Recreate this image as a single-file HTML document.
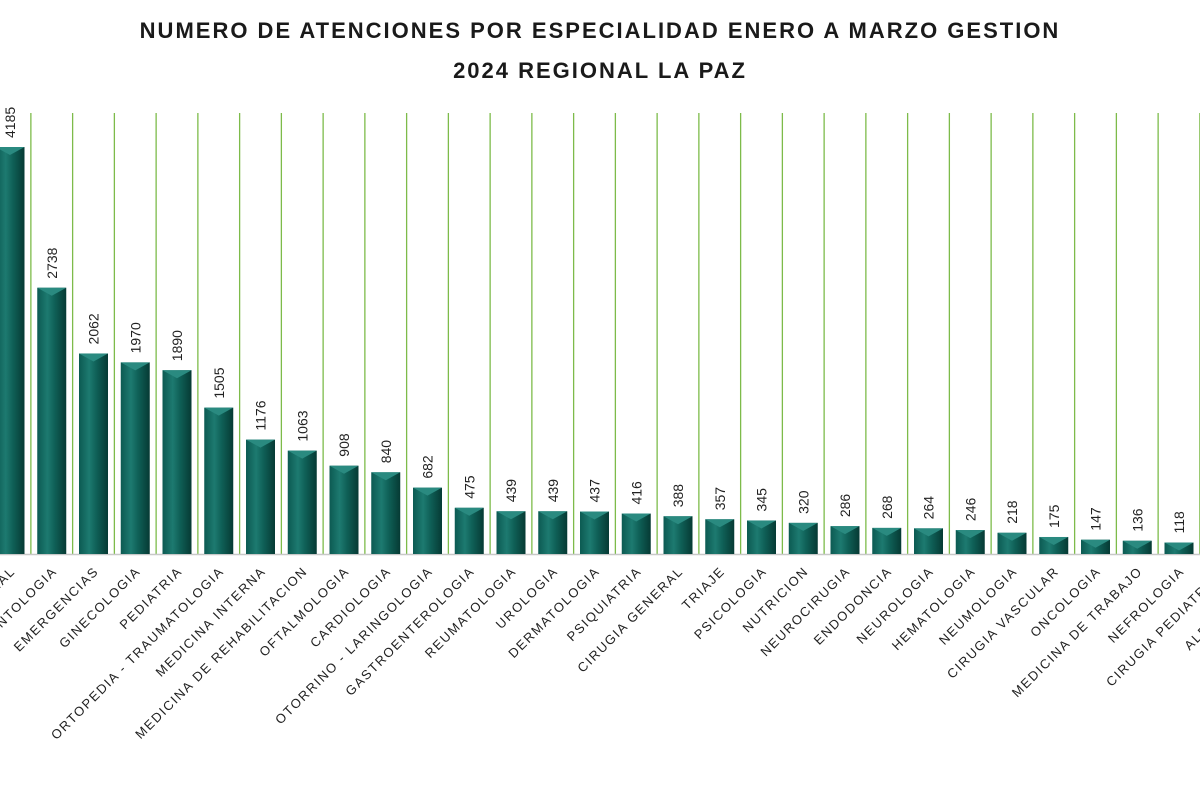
<!DOCTYPE html>
<html><head><meta charset="utf-8"><style>
html,body{margin:0;padding:0;background:#fff;width:1200px;height:800px;overflow:hidden}
svg{display:block}
text{font-family:"Liberation Sans",sans-serif}
</style></head><body>
<svg id="chart" width="1200" height="800">
<defs>
<linearGradient id="bg" x1="0" x2="1" y1="0" y2="0">
<stop offset="0" stop-color="#0c5a52"/><stop offset="0.35" stop-color="#1d7a70"/><stop offset="0.6" stop-color="#0f6057"/><stop offset="1" stop-color="#063a34"/>
</linearGradient>
</defs>
<text x="600" y="38" text-anchor="middle" font-size="22" font-weight="bold" letter-spacing="2" fill="#1a1a1a">NUMERO DE ATENCIONES POR ESPECIALIDAD ENERO A MARZO GESTION</text>
<text x="600" y="78" text-anchor="middle" font-size="22" font-weight="bold" letter-spacing="2" fill="#1a1a1a">2024 REGIONAL LA PAZ</text>
<g id="grid"></g><g id="bars"></g><g id="labels"></g>
</svg>
<script>
const categories = ["MEDICINA GENERAL","ODONTOLOGIA","EMERGENCIAS","GINECOLOGIA","PEDIATRIA","ORTOPEDIA - TRAUMATOLOGIA","MEDICINA INTERNA","MEDICINA DE REHABILITACION","OFTALMOLOGIA","CARDIOLOGIA","OTORRINO - LARINGOLOGIA","GASTROENTEROLOGIA","REUMATOLOGIA","UROLOGIA","DERMATOLOGIA","PSIQUIATRIA","CIRUGIA GENERAL","TRIAJE","PSICOLOGIA","NUTRICION","NEUROCIRUGIA","ENDODONCIA","NEUROLOGIA","HEMATOLOGIA","NEUMOLOGIA","CIRUGIA VASCULAR","ONCOLOGIA","MEDICINA DE TRABAJO","NEFROLOGIA","CIRUGIA PEDIATRICA","ALERGOLOGIA","ENDOCRINOLOGIA"];
const values = [4185,2738,2062,1970,1890,1505,1176,1063,908,840,682,475,439,439,437,416,388,357,345,320,286,268,264,246,218,175,147,136,118,100,90,80];
const NS="http://www.w3.org/2000/svg";
const x0=10, step=41.75, base=554, scale=407/4185, bw=29;
const xPos=i=>x0+i*step;
const yPos=v=>base-v*scale;
const grid=document.getElementById('grid'), bars=document.getElementById('bars'), labels=document.getElementById('labels');
function mk(tag,attrs){const e=document.createElementNS(NS,tag);for(const k in attrs)e.setAttribute(k,attrs[k]);return e;}
for(let i=0;i<categories.length;i++){
  const gx=xPos(i)+step/2;
  const gl=mk('line',{x1:gx,x2:gx,y1:113,y2:base,stroke:'#7dbb4a','stroke-width':1.3});
  
  
  grid.appendChild(gl);
}
const ax=mk('line',{x1:0,x2:1200,y1:base+0.5,y2:base+0.5,stroke:'#c8c8c8','stroke-width':1.5});


grid.appendChild(ax);
for(let i=0;i<categories.length;i++){
  const cx=xPos(i), top=yPos(values[i]), h=base-top;
  const g=mk('g',{});
  
  
  g.appendChild(mk('rect',{x:cx-bw/2,y:top,width:bw,height:h,fill:'url(#bg)'}));
  const bev=Math.min(8,h);
  g.appendChild(mk('polygon',{points:`${cx-bw/2},${top} ${cx+bw/2},${top} ${cx},${top+bev}`,fill:'#2a8a80'}));
  bars.appendChild(g);
  const vt=mk('text',{x:0,y:0,'font-size':14,fill:'#222',transform:`translate(${cx+5},${top-9}) rotate(-90)`});
  
  
  vt.textContent=values[i];
  labels.appendChild(vt);
  const ct=mk('text',{x:0,y:0,'font-size':13,'letter-spacing':1.6,fill:'#222','text-anchor':'end',transform:`translate(${cx+6},${base+18}) rotate(-45)`});
  
  
  ct.textContent=categories[i];
  labels.appendChild(ct);
}
</script>
</body></html>
